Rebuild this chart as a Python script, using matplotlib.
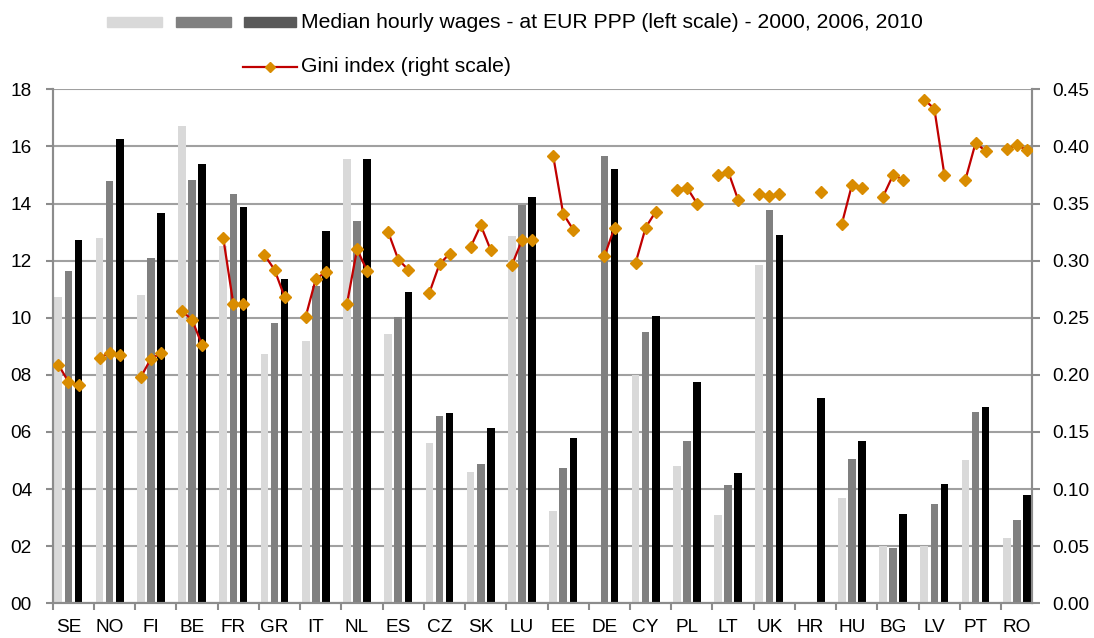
import matplotlib.pyplot as plt
from matplotlib.patches import Rectangle
from matplotlib.lines import Line2D
import numpy as np

plt.rcParams['font.family'] = ['Liberation Sans', 'DejaVu Sans']

countries = ['SE', 'NO', 'FI', 'BE', 'FR', 'GR', 'IT', 'NL', 'ES', 'CZ', 'SK', 'LU',
             'EE', 'DE', 'CY', 'PL', 'LT', 'UK', 'HR', 'HU', 'BG', 'LV', 'PT', 'RO']

# median hourly wages, EUR PPP
wage_2000 = [10.74, 12.79, 10.79, 16.71, 12.50, 8.74, 9.19, 15.56, 9.43, 5.61, 4.60, 12.86,
             3.23, np.nan, 7.99, 4.81, 3.09, 11.85, np.nan, 3.69, 2.02, 2.02, 5.02, 2.29]
wage_2006 = [11.65, 14.79, 12.10, 14.83, 14.33, 9.82, 11.10, 13.39, 10.01, 6.56, 4.88, 13.95,
             4.74, 15.66, 9.50, 5.68, 4.14, 13.77, np.nan, 5.05, 1.94, 3.48, 6.71, 2.92]
wage_2010 = [12.72, 16.26, 13.67, 15.38, 13.89, 11.36, 13.04, 15.56, 10.91, 6.66, 6.14, 14.23,
             5.79, 15.21, 10.06, 7.75, 4.56, 12.90, 7.19, 5.68, 3.13, 4.18, 6.88, 3.79]

# Gini index
gini_2000 = [0.209, 0.215, 0.198, 0.256, 0.320, 0.305, 0.251, 0.262, 0.325, 0.272, 0.312, 0.296,
             0.392, np.nan, 0.298, 0.362, 0.375, 0.358, np.nan, 0.332, 0.356, 0.441, 0.371, 0.398]
gini_2006 = [0.194, 0.219, 0.214, 0.248, 0.262, 0.292, 0.284, 0.310, 0.301, 0.297, 0.331, 0.318,
             0.341, 0.304, 0.329, 0.364, 0.378, 0.357, np.nan, 0.366, 0.375, 0.433, 0.403, 0.401]
gini_2010 = [0.191, 0.217, 0.219, 0.226, 0.262, 0.268, 0.290, 0.291, 0.292, 0.306, 0.309, 0.318,
             0.327, 0.329, 0.343, 0.350, 0.353, 0.358, 0.360, 0.364, 0.371, 0.375, 0.396, 0.397]

wage_series = [wage_2000, wage_2006, wage_2010]
bar_colors = ['#d9d9d9', '#808080', '#000000']
offsets = [0.135, 0.38, 0.625]
grid_col = '#a0a0a0'
spine_col = '#8c8c8c'

fig = plt.figure(figsize=(10.94, 6.38), dpi=100)
ax = fig.add_axes([0.0482, 0.0544, 0.943 - 0.0482, 0.86 - 0.0544])
ax2 = ax.twinx()

x = np.arange(len(countries))
for vals, col, off in zip(wage_series, bar_colors, offsets):
    ax.bar(x + off, vals, width=0.185, color=col, zorder=2)

gini = np.array([gini_2000, gini_2006, gini_2010]).T
for i in range(len(countries)):
    ax2.plot(i + np.array(offsets), gini[i], color='#c00000', lw=1.6,
             marker='D', markersize=6.2, markerfacecolor='#d98c00',
             markeredgecolor='#d98c00', zorder=3)

ax.set_xlim(0, 23.74)
ax.set_ylim(0, 18)
ax2.set_ylim(0, 0.45)

ax.set_yticks(np.arange(0, 19, 2))
ax.set_yticklabels([f'{v:02d}' for v in range(0, 19, 2)])
ax2.set_yticks(np.arange(0, 0.46, 0.05))
ax2.set_yticklabels([f'{v:.2f}' for v in np.arange(0, 0.46, 0.05)])

ax.set_xticks(x + 0.38)
ax.set_xticklabels(countries)
ax.set_xticks(np.arange(0, 24), minor=True)
ax.tick_params(axis='x', which='major', length=0, pad=11, labelsize=13.7)
ax.tick_params(axis='x', which='minor', length=5, width=1.5, color=spine_col)
ax.tick_params(axis='y', length=5, width=1.5, color=spine_col, pad=10, labelsize=13.7)
ax2.tick_params(axis='y', length=6, width=1.5, color=spine_col, pad=9, labelsize=13.7)

ax.yaxis.grid(True, color=grid_col, lw=1.5, zorder=0)
ax.set_axisbelow(True)

for a in (ax, ax2):
    a.spines['top'].set_visible(False)
    for s in ('left', 'right', 'bottom'):
        a.spines[s].set_color(spine_col)
        a.spines[s].set_linewidth(1.5)
ax2.patch.set_visible(False)

# legend drawn by hand in figure pixels
H = 638
def fy(y):
    return 1 - y / H

leg_cols = ['#d9d9d9', '#808080', '#595959']
for (x0, x1), col in zip([(107, 162), (176, 231), (244, 296)], leg_cols):
    fig.add_artist(Rectangle((x0 / 1094, fy(27)), (x1 - x0) / 1094, 10 / H,
                             transform=fig.transFigure, color=col))
fig.text(301 / 1094, fy(22), 'Median hourly wages - at EUR PPP (left scale) - 2000, 2006, 2010',
         fontsize=15.2, va='center', ha='left')
fig.add_artist(Line2D([243 / 1094, 297 / 1094], [fy(67), fy(67)], transform=fig.transFigure,
                      color='#c00000', lw=1.6))
fig.add_artist(Line2D([270 / 1094], [fy(67)], transform=fig.transFigure, marker='D',
                      markersize=5.5, color='#d98c00'))
fig.text(301 / 1094, fy(67), 'Gini index (right scale)', fontsize=15.2, va='center', ha='left')

fig.savefig('out.png', dpi=100)
